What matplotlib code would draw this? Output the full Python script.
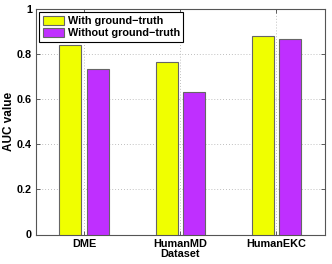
import matplotlib
matplotlib.use("Agg")
import matplotlib.pyplot as plt
import numpy as np

categories = ["DME", "HumanMD", "HumanEKC"]
with_gt = [0.840, 0.763, 0.881]
without_gt = [0.733, 0.630, 0.868]
series_names = ["With ground\u2212truth", "Without ground\u2212truth"]
yticks = [0, 0.2, 0.4, 0.6, 0.8, 1]
ytick_labels = ["0", "0.2", "0.4", "0.6", "0.8", "1"]

plt.rcParams['font.family'] = ['Liberation Sans', 'DejaVu Sans']
plt.rcParams['font.weight'] = 'bold'

fig = plt.figure(figsize=(3.32, 2.64), dpi=100)
ax = fig.add_axes([36/332, 1-234.5/264, 288.5/332, 225.5/264])

x = np.arange(1, len(categories)+1)
w = 0.23
off = 0.142
ax.bar(x-off, with_gt, w, color="#f0ff00", edgecolor="#666666", linewidth=0.8, label=series_names[0], zorder=3)
ax.bar(x+off, without_gt, w, color="#bf2fff", edgecolor="#666666", linewidth=0.8, label=series_names[1], zorder=3)

ax.set_xlim(0.5, 3.5)
ax.set_ylim(0, 1)
ax.set_xticks(x)
ax.set_xticklabels(categories, fontsize=7.8, fontweight='bold')
ax.set_yticks(yticks)
ax.set_yticklabels(ytick_labels, fontsize=7.8, fontweight='bold')
ax.tick_params(direction='in', length=3, width=0.6, top=True, right=True, pad=3, color='#444444')
ax.grid(True, linestyle=(0, (1, 2.5)), color='#aaaaaa', linewidth=0.6, zorder=0)
ax.set_axisbelow(True)
for s in ax.spines.values():
    s.set_color('#555555')
    s.set_linewidth(0.8)
ax.set_xlabel("Dataset", fontsize=7.8, fontweight='bold', labelpad=0)
ax.set_ylabel("AUC value", fontsize=8.5, fontweight='bold')
ax.yaxis.set_label_coords(-0.072, 0.5)

leg = ax.legend(loc='upper left', bbox_to_anchor=(0.012, 0.985), fontsize=7.8, frameon=True,
                fancybox=False, edgecolor='black', framealpha=1, borderpad=0.3,
                handlelength=2.0, handleheight=0.9, handletextpad=0.3, labelspacing=0.2,
                borderaxespad=0)
leg.get_frame().set_linewidth(0.8)
for t in leg.get_texts():
    t.set_fontweight('bold')

fig.savefig("out.png", dpi=100)
